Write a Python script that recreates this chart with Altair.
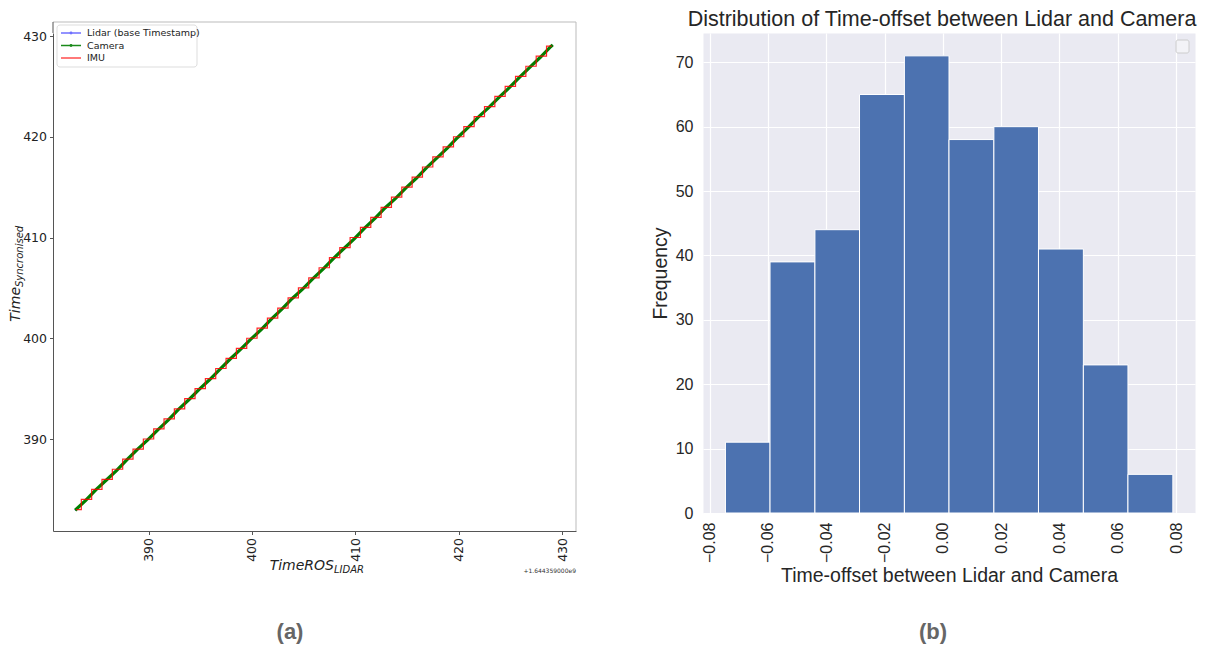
import altair as alt
import pandas as pd

# ---------------- Panel (a): synchronised timestamps ----------------
lidar_t = [382.9, 383.9, 384.9, 385.9, 386.9, 387.9, 388.9, 389.9, 390.9, 391.9,
           392.9, 393.9, 394.9, 395.9, 396.9, 397.9, 398.9, 399.9, 400.9, 401.9,
           402.9, 403.9, 404.9, 405.9, 406.9, 407.9, 408.9, 409.9, 410.9, 411.9,
           412.9, 413.9, 414.9, 415.9, 416.9, 417.9, 418.9, 419.9, 420.9, 421.9,
           422.9, 423.9, 424.9, 425.9, 426.9, 427.9, 428.9, 429.1]
camera_t = [382.93, 383.88, 384.95, 385.91, 386.86, 387.92, 388.94, 389.89, 390.91, 391.87,
            392.95, 393.90, 394.93, 395.88, 396.92, 397.94, 398.89, 399.91, 400.86, 401.93,
            402.90, 403.95, 404.88, 405.92, 406.89, 407.94, 408.91, 409.87, 410.93, 411.90,
            412.96, 413.89, 414.92, 415.88, 416.94, 417.91, 418.87, 419.93, 420.90, 421.95,
            422.89, 423.92, 424.88, 425.93, 426.91, 427.89, 428.94, 429.12]
imu_t = [383.0, 384.0, 385.0, 386.0, 387.0, 388.0, 389.0, 390.0, 391.0, 392.0,
         393.0, 394.0, 395.0, 396.0, 397.0, 398.0, 399.0, 400.0, 401.0, 402.0,
         403.0, 404.0, 405.0, 406.0, 407.0, 408.0, 409.0, 410.0, 411.0, 412.0,
         413.0, 414.0, 415.0, 416.0, 417.0, 418.0, 419.0, 420.0, 421.0, 422.0,
         423.0, 424.0, 425.0, 426.0, 427.0, 428.0, 429.0]
time_ticks = [390, 400, 410, 420, 430]
legend_labels = ["Lidar (base Timestamp)", "Camera", "IMU"]
legend_colors = ["#6f6fff", "#1a8a1a", "#ff4d4d"]

# ---------------- Panel (b): histogram of time offsets ----------------
bin_edges = [-0.0746, -0.0593, -0.0439, -0.0286, -0.0132, 0.0021,
             0.0175, 0.0328, 0.0482, 0.0635, 0.0789]
counts = [11, 39, 44, 65, 71, 58, 60, 41, 23, 6]
offset_ticks = [-0.08, -0.06, -0.04, -0.02, 0.0, 0.02, 0.04, 0.06, 0.08]
freq_ticks = [0, 10, 20, 30, 40, 50, 60, 70]

lidar_df = pd.DataFrame({"ros": lidar_t, "sync": lidar_t})
camera_df = pd.DataFrame({"ros": lidar_t, "sync": camera_t})
imu_df = pd.DataFrame({"ros": imu_t, "sync": imu_t})
hist_df = pd.DataFrame({"lo": bin_edges[:-1], "hi": bin_edges[1:], "n": counts})

one = pd.DataFrame({"k": [0]})

W1, H1 = 523, 498
W2, H2 = 492, 480
TOP = -11  # top of the left frame, above the shared row origin

xs = alt.Scale(domain=[380.76, 431.35], nice=False, zero=False)
ys = alt.Scale(domain=[380.87, 430.30], nice=False, zero=False)

ax_common = dict(domainColor="#555555", tickColor="#555555", tickSize=3.5,
                 labelColor="#222222", labelFont="DejaVu Sans", labelFontSize=12.5,
                 grid=False, title=None, format="d", values=time_ticks)
xaxis = alt.Axis(labelAngle=270, labelPadding=3, **ax_common)
yaxis = alt.Axis(labelPadding=3, **ax_common)

enc = dict(x=alt.X("ros:Q", scale=xs, axis=xaxis), y=alt.Y("sync:Q", scale=ys, axis=yaxis))

lidar_line = alt.Chart(lidar_df).mark_line(color="#0000ff", opacity=0.5, strokeWidth=1.5).encode(**enc)
camera_line = alt.Chart(camera_df).mark_line(color="#008000", strokeWidth=3.2).encode(**enc)
imu_line = alt.Chart(imu_df).mark_line(color="#ff0000", strokeWidth=1.2, opacity=0.85,
                                      interpolate="step").encode(**enc)

left_layers = [lidar_line, camera_line, imu_line]

# frame (top / right light, left spine extension dark)
left_layers.append(alt.Chart(one).mark_rule(color="#bbbbbb", strokeWidth=1).encode(
    x=alt.value(0), x2=alt.value(W1), y=alt.value(TOP)))
left_layers.append(alt.Chart(one).mark_rule(color="#bbbbbb", strokeWidth=1).encode(
    x=alt.value(W1), y=alt.value(TOP), y2=alt.value(H1)))
left_layers.append(alt.Chart(one).mark_rule(color="#555555", strokeWidth=1).encode(
    x=alt.value(0), y=alt.value(TOP), y2=alt.value(0)))

# legend box
left_layers.append(alt.Chart(one).mark_rect(fill="white", stroke="#dddddd", strokeWidth=1,
                                            cornerRadius=3).encode(
    x=alt.value(4), x2=alt.value(144), y=alt.value(-8), y2=alt.value(34)))
for i, (lab, col) in enumerate(zip(legend_labels, legend_colors)):
    yy = 0 + i * 12.5
    left_layers.append(alt.Chart(one).mark_rule(color=col, strokeWidth=1.5).encode(
        x=alt.value(8), x2=alt.value(28), y=alt.value(yy)))
    if i < 2:
        left_layers.append(alt.Chart(one).mark_point(filled=True, color=col, size=8, opacity=1).encode(
            x=alt.value(18), y=alt.value(yy)))
    left_layers.append(alt.Chart(one).mark_text(text=lab, align="left", baseline="middle",
                                                font="DejaVu Sans", fontSize=9.5, color="#222222").encode(
        x=alt.value(34), y=alt.value(yy)))

# axis titles with subscripts
left_layers.append(alt.Chart(one).mark_text(text="TimeROS", align="right", baseline="alphabetic",
                                            font="DejaVu Sans", fontStyle="italic", fontSize=14,
                                            color="#222222").encode(x=alt.value(281), y=alt.value(537)))
left_layers.append(alt.Chart(one).mark_text(text="LIDAR", align="left", baseline="alphabetic",
                                            font="DejaVu Sans", fontStyle="italic", fontSize=10,
                                            color="#222222").encode(x=alt.value(281), y=alt.value(540)))
left_layers.append(alt.Chart(one).mark_text(text="Time", align="right", baseline="alphabetic", angle=270,
                                            font="DejaVu Sans", fontStyle="italic", fontSize=14,
                                            color="#222222").encode(x=alt.value(-33), y=alt.value(254)))
left_layers.append(alt.Chart(one).mark_text(text="Syncronised", align="left", baseline="alphabetic", angle=270,
                                            font="DejaVu Sans", fontStyle="italic", fontSize=10,
                                            color="#222222").encode(x=alt.value(-30), y=alt.value(254)))
# offset text
left_layers.append(alt.Chart(one).mark_text(text="+1.644359000e9", align="right", baseline="middle",
                                            font="DejaVu Sans", fontSize=6, color="#333333").encode(
    x=alt.value(W1), y=alt.value(538)))
# caption
left_layers.append(alt.Chart(one).mark_text(text="(a)", align="center", baseline="middle",
                                            font="Liberation Sans", fontWeight="bold", fontSize=22,
                                            color="#666666").encode(x=alt.value(237), y=alt.value(599)))

left = alt.layer(*left_layers).properties(
    width=W1, height=H1,
    view=alt.ViewBackground(fill="white", stroke="transparent"))

# ---------------- right panel ----------------
hx = alt.Scale(domain=[-0.0823, 0.0865], nice=False, zero=False)
hy = alt.Scale(domain=[0, 74.55], nice=False)

rtxt = dict(labelFont="Liberation Sans", labelFontSize=16, labelColor="#262626",
            titleFont="Liberation Sans", titleFontSize=19.5, titleFontWeight="normal",
            titleColor="#262626", grid=True, gridColor="white", gridWidth=1.2,
            domain=False, ticks=False)

bars = alt.Chart(hist_df).mark_bar(color="#4C72B0", stroke="white", strokeWidth=1).encode(
    x=alt.X("lo:Q", scale=hx, axis=alt.Axis(values=offset_ticks, format=".2f", labelAngle=270,
                                             labelPadding=9, title="Time-offset between Lidar and Camera",
                                             titlePadding=4, **rtxt)),
    x2="hi:Q",
    y=alt.Y("n:Q", scale=hy, axis=alt.Axis(values=freq_ticks, format="d", labelPadding=10,
                                           title="Frequency", titlePadding=5, **rtxt)),
    y2=alt.datum(0),
)
legend_box = alt.Chart(one).mark_rect(fill="#f3f3f7", stroke="#cccccc", strokeWidth=1,
                                      cornerRadius=2).encode(
    x=alt.value(473), x2=alt.value(486), y=alt.value(7), y2=alt.value(20))
cap_b = alt.Chart(one).mark_text(text="(b)", align="center", baseline="middle",
                                 font="Liberation Sans", fontWeight="bold", fontSize=22,
                                 color="#666666").encode(x=alt.value(230), y=alt.value(599))

right = alt.layer(bars, legend_box, cap_b).properties(
    width=W2, height=H2,
    title=alt.TitleParams("Distribution of Time-offset between Lidar and Camera",
                          fontSize=21.5, font="Liberation Sans", fontWeight="normal",
                          color="#262626", anchor="middle", offset=3, dx=-7),
    view=alt.ViewBackground(fill="#EAEAF2", stroke="transparent"))

chart = alt.hconcat(left, right, spacing=72).resolve_scale(
    x="independent", y="independent").properties(
    padding={"left": 0, "top": 0, "right": 0, "bottom": 0},
    background="white")

chart.save("out.html", embed_options={"renderer": "svg", "actions": False})
